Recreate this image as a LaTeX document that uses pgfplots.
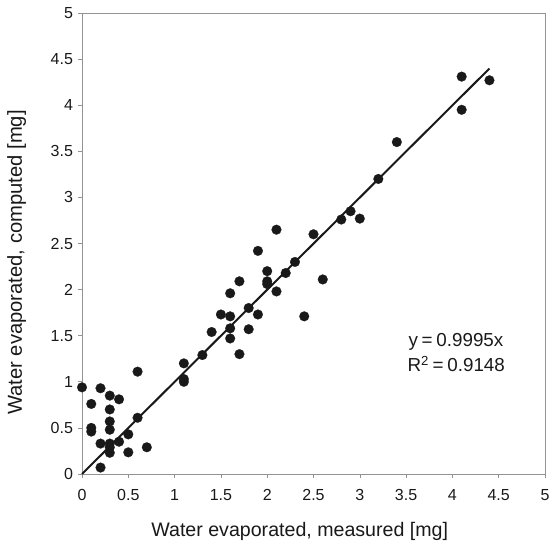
\documentclass[border=0pt]{standalone}
\usepackage{fontspec}
\setmainfont{Liberation Sans}
\usepackage{pgfplots}
\pgfplotsset{compat=1.18}
\begin{document}
\begin{tikzpicture}[x=1bp,y=1bp]
\path[use as bounding box] (0,0) rectangle (552,546);
\begin{axis}[
  at={(82bp,72bp)}, anchor=south west,
  scale only axis, width=463bp, height=461bp,
  xmin=0, xmax=5, ymin=0, ymax=5,
  xtick={0,0.5,...,5}, ytick={0,0.5,...,5},
  axis line style={draw=gray!85, line width=0.9pt},
  tick style={draw=gray!85, line width=0.6pt},
  tick align=outside, major tick length=4bp,
  xtick pos=bottom, ytick pos=left,
  /pgf/number format/assume math mode=true,
  ticklabel style={font=\fontsize{16bp}{18bp}\selectfont, text=black!90},
  xticklabel style={yshift=-8bp},
  yticklabel style={xshift=-1.5bp},
  xlabel={Water evaporated, measured [mg]},
  ylabel={Water evaporated, computed [mg]},
  xlabel style={at={(axis description cs:0.4702,-0.136)}, anchor=base, font=\fontsize{19.6bp}{22bp}\selectfont, text=black!90},
  ylabel style={at={(axis description cs:-0.1296,0.4588)}, anchor=base, font=\fontsize{20.2bp}{22bp}\selectfont, text=black!90},
  clip=false,
]
\addplot[only marks, mark=*, mark size=4.9pt, mark options={fill=black!90, draw=black!90, line width=0.2pt}] coordinates {
(0,0.94) (0.1,0.76) (0.1,0.50) (0.1,0.46) (0.2,0.93) (0.2,0.33) (0.2,0.07)
(0.3,0.85) (0.3,0.70) (0.3,0.57) (0.3,0.48) (0.3,0.33) (0.3,0.29) (0.3,0.23)
(0.4,0.81) (0.4,0.35) (0.5,0.43) (0.5,0.235) (0.6,1.11) (0.6,0.61) (0.7,0.29)
(1.1,1.20) (1.1,1.03) (1.1,1.00) (1.3,1.29) (1.4,1.54) (1.5,1.73)
(1.6,1.71) (1.6,1.58) (1.6,1.47) (1.6,1.96) (1.7,2.09) (1.7,1.30)
(1.8,1.80) (1.8,1.57) (1.9,2.42) (1.9,1.73) (2.0,2.20) (2.0,2.09) (2.0,2.06)
(2.1,2.65) (2.1,1.98) (2.2,2.18) (2.3,2.30) (2.4,1.71) (2.5,2.60) (2.6,2.11)
(2.8,2.76) (2.9,2.85) (3.0,2.77) (3.2,3.20) (3.4,3.60) (4.1,4.31) (4.1,3.95) (4.4,4.27)
};
\addplot[black!90, line width=2bp] coordinates {(0,0) (4.4,4.3978)};
\node[anchor=base west, font=\fontsize{18.8bp}{20bp}\selectfont, text=black!90, inner sep=0pt] at (axis cs:3.524,1.388) {y\hspace{0.2em}=\hspace{0.2em}0.9995x};
\node[anchor=base west, font=\fontsize{18.8bp}{20bp}\selectfont, text=black!90, inner sep=0pt] at (axis cs:3.513,1.11) {R\textsuperscript{2}\hspace{0.2em}=\hspace{0.2em}0.9148};
\end{axis}
\end{tikzpicture}
\end{document}
